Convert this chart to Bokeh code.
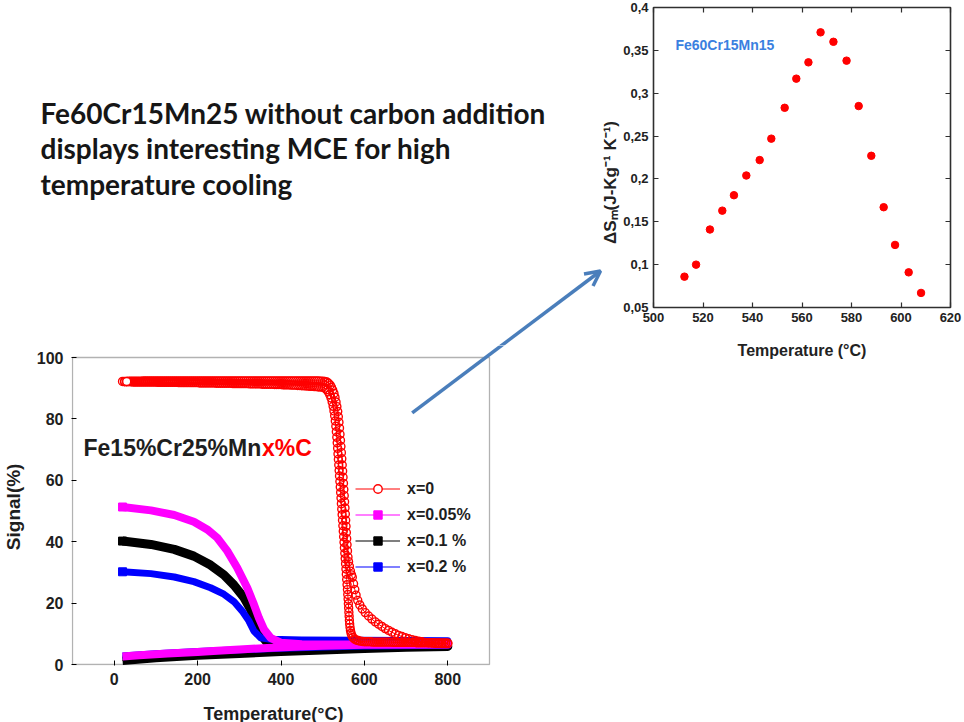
import math
from bokeh.plotting import figure
from bokeh.layouts import column, row
from bokeh.models import (Range1d, FixedTicker, LinearAxis, Label, Arrow, OpenHead,
                          Legend, LegendItem, CustomJSTickFormatter, BoxAnnotation, Spacer)
from bokeh.embed import file_html
from bokeh.resources import INLINE

# ---------------- data: magnetic entropy change (top-right panel) ----------------
ds_temp = [512.5, 517.2, 522.8, 527.8, 532.5, 537.5, 542.9, 547.6, 553.0, 557.7,
           562.6, 567.5, 572.7, 578.0, 582.9, 588.0, 593.0, 597.6, 603.1, 608.1]
ds_value = [0.086, 0.100, 0.141, 0.163, 0.181, 0.204, 0.222, 0.247, 0.283, 0.317,
            0.336, 0.371, 0.360, 0.338, 0.285, 0.227, 0.167, 0.123, 0.091, 0.067]
ds_temp_ticks = [500, 520, 540, 560, 580, 600, 620]
ds_value_ticks = [0.05, 0.1, 0.15, 0.2, 0.25, 0.3, 0.35, 0.4]

# ---------------- data: signal vs temperature (bottom-left panel) ----------------
sig_temp_ticks = [0, 200, 400, 600, 800]
sig_value_ticks = [0, 20, 40, 60, 80, 100]

# x = 0 : heating run (upper plateau, transition, slow tail)
red_heat_plateau = [
    (20, 92.2), (25, 92.2), (30, 92.2), (35, 92.3), (40, 92.3), (45, 92.3), (50, 92.3),
    (55, 92.3), (60, 92.3), (65, 92.3), (70, 92.4), (75, 92.4), (80, 92.4), (85, 92.4),
    (90, 92.4), (95, 92.4), (100, 92.4), (105, 92.4), (110, 92.4), (115, 92.4), (120, 92.4),
    (125, 92.4), (130, 92.4), (135, 92.4), (140, 92.4), (145, 92.4), (150, 92.4), (155, 92.4),
    (160, 92.4), (165, 92.4), (170, 92.4), (175, 92.4), (180, 92.4), (185, 92.4), (190, 92.4),
    (195, 92.4), (200, 92.4), (205, 92.4), (210, 92.4), (215, 92.4), (220, 92.4), (225, 92.4),
    (230, 92.4), (235, 92.4), (240, 92.4), (245, 92.4), (250, 92.4), (255, 92.4), (260, 92.4),
    (265, 92.4), (270, 92.4), (275, 92.4), (280, 92.4), (285, 92.4), (290, 92.4), (295, 92.4),
    (300, 92.4), (305, 92.4), (310, 92.4), (315, 92.4), (320, 92.4), (325, 92.4), (330, 92.4),
    (335, 92.4), (340, 92.4), (345, 92.4), (350, 92.4), (355, 92.4), (360, 92.4), (365, 92.4),
    (370, 92.4), (375, 92.4), (380, 92.4), (385, 92.4), (390, 92.4), (395, 92.4), (400, 92.4),
    (405, 92.4), (410, 92.4), (415, 92.4), (420, 92.4), (425, 92.4), (430, 92.4), (435, 92.4),
    (440, 92.4), (445, 92.4), (450, 92.4), (455, 92.4), (460, 92.4), (465, 92.4), (470, 92.4),
    (475, 92.4), (480, 92.4), (485, 92.4), (490, 92.4), (495, 92.3), (500, 92.3)]
red_heat_drop = [
    (505, 92.2), (510, 92.0), (514, 91.6), (518, 91.0), (521, 90.3), (524, 89.4), (527, 88.3),
    (529.5, 87.0), (532, 85.5), (534, 84.0), (536, 82.4), (537.5, 80.7), (539, 78.9),
    (540.3, 77.0), (541.5, 75.0), (542.6, 73.0), (543.7, 71.0), (544.8, 69.0), (545.8, 67.0),
    (546.8, 65.0), (547.8, 63.0), (548.8, 61.0), (549.8, 59.0), (550.7, 57.0), (551.6, 55.0),
    (552.5, 53.0), (553.4, 51.0), (554.3, 49.0), (555.1, 47.0), (555.9, 45.0), (556.7, 43.0),
    (557.5, 41.0), (558.4, 39.0), (559.4, 37.0), (560.6, 35.0), (562.0, 33.5), (564.0, 32.0),
    (566.5, 30.4), (569.0, 29.2), (571.0, 28.4), (574, 26.3), (577, 24.4), (580, 22.6)]
red_heat_tail = [
    (584, 20.9), (589, 19.4), (595, 18.1), (602, 16.9), (610, 15.8), (618, 14.8), (626, 13.9),
    (634, 13.1), (642, 12.4), (650, 11.7), (658, 11.1), (666, 10.5), (674, 10.0), (682, 9.5),
    (690, 9.1), (698, 8.7), (706, 8.4), (714, 8.1), (722, 7.8), (730, 7.6), (738, 7.4),
    (746, 7.2), (754, 7.1), (762, 7.0), (770, 6.9), (778, 6.9), (786, 6.8), (794, 6.8), (800, 6.8)]

# x = 0 : cooling run (low flat, transition back up, lower plateau)
red_cool_flat = [
    (800, 7.0), (795, 7.0), (790, 7.0), (785, 7.0), (780, 7.0), (775, 7.0), (770, 7.0),
    (765, 7.1), (760, 7.1), (755, 7.1), (750, 7.1), (745, 7.1), (740, 7.1), (735, 7.1),
    (730, 7.1), (725, 7.1), (720, 7.2), (715, 7.2), (710, 7.2), (705, 7.2), (700, 7.2),
    (695, 7.2), (690, 7.2), (685, 7.2), (680, 7.2), (675, 7.2), (670, 7.2), (665, 7.3),
    (660, 7.3), (655, 7.3), (650, 7.3), (645, 7.3), (640, 7.3), (635, 7.3), (630, 7.3),
    (625, 7.3), (620, 7.3), (615, 7.4), (610, 7.4), (605, 7.4), (600, 7.4)]
red_cool_rise = [
    (595, 7.5), (590, 7.6), (585, 7.8), (580, 8.0), (576, 8.3), (572.5, 8.8), (570, 9.4),
    (568, 10.2), (566.6, 11.1), (565.5, 12.1), (564.7, 13.2), (564.0, 14.4), (563.4, 15.7),
    (562.8, 17.0), (562.2, 18.4), (561.6, 19.8), (560.9, 21.3), (560.1, 22.8), (559.3, 24.4),
    (558.4, 26.0), (557.5, 27.7), (556.6, 29.4), (555.7, 31.1), (554.8, 32.8), (553.9, 34.5),
    (553.0, 36.2), (552.0, 38.0), (551.1, 39.8), (550.2, 41.6), (549.3, 43.4), (548.4, 45.2),
    (547.5, 47.0), (546.6, 48.8), (545.7, 50.6), (544.8, 52.4), (543.9, 54.2), (543.0, 56.0),
    (542.1, 57.8), (541.2, 59.6), (540.3, 61.4), (539.4, 63.2), (538.5, 65.0), (537.6, 66.8),
    (536.7, 68.6), (535.8, 70.4), (534.8, 72.2), (533.8, 74.0), (532.7, 75.8), (531.5, 77.6),
    (530.2, 79.3), (528.7, 81.0), (527.0, 82.6), (525.0, 84.1), (522.7, 85.5), (520.0, 86.8),
    (517.0, 87.9), (513.5, 88.8), (509.5, 89.5), (505.0, 90.0), (500.0, 90.3)]
red_cool_plateau = [
    (495, 90.4), (490, 90.4), (485, 90.5), (480, 90.5), (475, 90.6), (470, 90.6), (465, 90.7),
    (460, 90.7), (455, 90.8), (450, 90.8), (445, 90.9), (440, 90.9), (435, 91.0), (430, 91.0),
    (425, 91.0), (420, 91.1), (415, 91.1), (410, 91.1), (405, 91.1), (400, 91.2), (395, 91.2),
    (390, 91.2), (385, 91.2), (380, 91.3), (375, 91.3), (370, 91.3), (365, 91.3), (360, 91.3),
    (355, 91.3), (350, 91.4), (345, 91.4), (340, 91.4), (335, 91.4), (330, 91.4), (325, 91.4),
    (320, 91.5), (315, 91.5), (310, 91.5), (305, 91.5), (300, 91.5), (295, 91.5), (290, 91.5),
    (285, 91.5), (280, 91.6), (275, 91.6), (270, 91.6), (265, 91.6), (260, 91.6), (255, 91.6),
    (250, 91.6), (245, 91.6), (240, 91.7), (235, 91.7), (230, 91.7), (225, 91.7), (220, 91.7),
    (215, 91.7), (210, 91.7), (205, 91.7), (200, 91.8), (195, 91.8), (190, 91.8), (185, 91.8),
    (180, 91.8), (175, 91.8), (170, 91.8), (165, 91.8), (160, 91.8), (155, 91.8), (150, 91.9),
    (145, 91.9), (140, 91.9), (135, 91.9), (130, 91.9), (125, 91.9), (120, 91.9), (115, 91.9),
    (110, 91.9), (105, 91.9), (100, 92.0), (95, 92.0), (90, 92.0), (85, 92.0), (80, 92.0),
    (75, 92.0), (70, 92.0), (65, 92.0), (60, 92.0), (55, 92.0), (50, 92.0), (45, 92.0),
    (40, 92.1), (35, 92.1), (30, 92.1), (25, 92.1)]

# x = 0.05 %
mag_heat = [(20, 51.3), (88, 50.2), (144, 48.7), (191, 46.5), (223, 44.0), (247, 41.3),
            (271, 37.0), (295, 31.5), (319, 25.0), (335, 19.6), (347, 15.2), (359, 11.5),
            (375, 8.7), (399, 7.1), (450, 6.6), (500, 6.5), (600, 6.5), (700, 6.5), (800, 6.5)]
mag_cool = [(800, 6.5), (600, 6.4), (500, 6.1), (447, 5.9), (367, 5.4), (300, 4.9),
            (247, 4.5), (200, 4.1), (128, 3.6), (60, 3.0), (20, 2.6)]
# x = 0.1 %
blk_heat = [(20, 40.2), (88, 39.1), (144, 37.5), (191, 35.3), (231, 32.4), (263, 29.2),
            (287, 25.9), (311, 21.8), (327, 18.0), (339, 13.6), (351, 9.8), (367, 7.1),
            (383, 6.6), (450, 6.4), (600, 6.2), (800, 6.0)]
blk_cool = [(800, 5.9), (700, 5.6), (600, 5.2), (500, 4.7), (400, 4.2), (300, 3.6),
            (200, 3.0), (100, 2.2), (20, 1.3)]
# x = 0.2 %
blu_heat = [(20, 30.2), (88, 29.6), (144, 28.5), (191, 27.0), (231, 25.0), (263, 22.9),
            (287, 20.5), (307, 17.4), (323, 14.2), (335, 10.9), (351, 8.7), (375, 8.2),
            (450, 8.0), (580, 7.9), (700, 7.8), (800, 7.7)]
blu_cool = [(800, 6.3), (600, 6.0), (500, 5.7), (400, 5.3), (300, 4.8), (200, 4.2),
            (100, 3.5), (20, 2.8)]

legend_labels = ["x=0", "x=0.05%", "x=0.1 %", "x=0.2 %"]

headline = ["Fe60Cr15Mn25 without carbon addition",
            "displays interesting MCE for high",
            "temperature cooling"]

FONT = "Liberation Sans"
INK = "#1e1e1e"
RED = "#ff0000"
MAGENTA = "#ff00ff"
BLUE = "#0000ff"
BLACK = "#000000"
ARROW_BLUE = "#4a7ebb"

# page geometry (pixels from the top-left of the 964 x 722 page)
PAGE_H = 722
LEFT_W = 620            # width of the left column
TEXT_H = 345            # height of the headline strip
LAB_W = 30              # strip holding the rotated "Signal(%)" title
XLAB_TOP = 700          # strip holding the signal chart's temperature title
ARROW_FROM = (411.7, 412.3)
ARROW_TO = (600.0, 270.5)


def xs(*parts):
    return [t for part in parts for t, _ in part]


def ys(*parts):
    return [v for part in parts for _, v in part]


def strip(width, height, y0):
    """Axis-less figure whose data coordinates are page pixels."""
    fig = figure(width=width, height=height, x_range=Range1d(0, width),
                 y_range=Range1d(y0 + height, y0), output_backend="svg",
                 toolbar_location=None, title=None, min_border=0)
    fig.axis.visible = False
    fig.grid.visible = False
    fig.outline_line_color = None
    fig.background_fill_color = "white"
    fig.border_fill_color = "white"
    return fig


# ---------------- headline strip ----------------
p_text = strip(LEFT_W, TEXT_H, 0)
for i, line in enumerate(headline):
    p_text.add_layout(Label(x=40, y=112 + 35.5 * i, text=line, text_font="Lato",
                            text_font_style="bold", text_font_size="28px",
                            text_color="#161616", text_baseline="alphabetic"))
p_text.add_layout(Arrow(end=OpenHead(size=15, line_color=ARROW_BLUE, line_width=3.5),
                        x_start=ARROW_FROM[0], y_start=ARROW_FROM[1],
                        x_end=ARROW_TO[0], y_end=ARROW_TO[1],
                        line_color=ARROW_BLUE, line_width=3.5))
# title of the entropy panel's value axis
p_text.add_layout(Label(x=610, y=182, text="ΔSₘ(J-Kg⁻¹ K⁻¹)", angle=math.pi / 2,
                        text_font=FONT, text_font_style="bold", text_font_size="17px",
                        text_color="#222222", text_align="center", text_baseline="middle"))

# ---------------- strip with the rotated signal-axis title ----------------
p_lab = strip(LAB_W, XLAB_TOP - TEXT_H, TEXT_H)
p_lab.add_layout(Label(x=13, y=524, text="Signal(%)", angle=math.pi / 2,
                       text_font=FONT, text_font_style="bold", text_font_size="19px",
                       text_color=INK, text_align="center", text_baseline="middle"))

# ---------------- strip with the signal chart's temperature title ----------------
p_xlab = strip(LEFT_W, PAGE_H - XLAB_TOP, XLAB_TOP)
p_xlab.add_layout(Label(x=203, y=713, text="Temperature(°C)", text_font=FONT,
                        text_font_style="bold", text_font_size="18px", text_color=INK,
                        text_align="left", text_baseline="middle"))

# ---------------- signal chart ----------------
# axis box: x -100..900 on page x 72..489, y 0..100 on page y 664..357
BOX_L, BOX_R, BOX_T, BOX_B = 72, 489, 357, 664
SX = (BOX_R - BOX_L) / 1000.0
SY = (BOX_B - BOX_T) / 100.0
FRAME_L, FRAME_B = BOX_L - 1, BOX_B + 1


def sx(px):
    return -100 + (px - BOX_L) / SX


def sy(py):
    return (BOX_B - py) / SY


p = figure(width=LEFT_W - LAB_W, height=XLAB_TOP - TEXT_H,
           x_range=Range1d(sx(FRAME_L), sx(LEFT_W)), y_range=Range1d(sy(FRAME_B), sy(TEXT_H)),
           output_backend="svg", toolbar_location=None, title=None,
           min_border_left=FRAME_L - LAB_W, min_border_right=0,
           min_border_top=0, min_border_bottom=XLAB_TOP - FRAME_B)
p.grid.visible = False
p.outline_line_color = None
p.background_fill_color = "white"
p.border_fill_color = "white"
p.add_layout(BoxAnnotation(left=-100, right=900, bottom=0, top=100, fill_alpha=0,
                           line_color="black", line_width=1.3))

p.xaxis.ticker = FixedTicker(ticks=sig_temp_ticks)
p.yaxis.ticker = FixedTicker(ticks=sig_value_ticks)
for ax in (p.xaxis, p.yaxis):
    ax.axis_line_color = None
    ax.major_tick_in = 5
    ax.major_tick_out = 0
    ax.major_tick_line_color = "black"
    ax.minor_tick_line_color = None
    ax.major_label_text_font = FONT
    ax.major_label_text_font_style = "bold"
    ax.major_label_text_font_size = "16px"
    ax.major_label_text_color = INK
p.xaxis.major_label_standoff = 7
p.yaxis.major_label_standoff = 8

# signal bands: dense square markers that merge into thick strokes
bands = {}
for key, heat, cool, color, width in (
        ("blk", blk_heat, blk_cool, BLACK, 9),
        ("blu", blu_heat, blu_cool, BLUE, 7),
        ("mag", mag_heat, mag_cool, MAGENTA, 8)):
    tx, vy = xs(heat, cool), ys(heat, cool)
    p.line(tx, vy, line_color=color, line_width=width, line_join="round")
    thin = p.line(tx, vy, line_color=color, line_width=1.2)
    # square marker at the first recorded point
    start = p.scatter(xs(heat[:1]), ys(heat[:1]), marker="square", size=8,
                      line_color=color, fill_color=color)
    bands[key] = (thin, start)

red_parts = (red_heat_plateau, red_heat_drop, red_heat_tail,
             red_cool_flat, red_cool_rise, red_cool_plateau)
red_line = p.line(xs(*red_parts), ys(*red_parts), line_color=RED, line_width=1)
p.scatter(xs(*red_parts), ys(*red_parts), marker="circle", size=8, line_color=RED,
          line_width=1.4, fill_alpha=0)
# the first recorded point is left open (white centre)
red_first = p.scatter(xs(red_heat_plateau[2:3]), ys(red_heat_plateau[2:3]), marker="circle",
                      size=8, line_color=RED, line_width=1.4, fill_color="white")

legend = Legend(items=[
    LegendItem(label=legend_labels[0], renderers=[red_line, red_first]),
    LegendItem(label=legend_labels[1], renderers=list(bands["mag"])),
    LegendItem(label=legend_labels[2], renderers=list(bands["blk"])),
    LegendItem(label=legend_labels[3], renderers=list(bands["blu"])),
], location=(355 - FRAME_L, FRAME_B - 577))
legend.glyph_width = 45
legend.glyph_height = 21
legend.label_height = 21
legend.spacing = 5
legend.padding = 0
legend.margin = 0
legend.label_standoff = 7
legend.background_fill_alpha = 0
legend.border_line_color = None
legend.label_text_font = FONT
legend.label_text_font_style = "bold"
legend.label_text_font_size = "16px"
legend.label_text_color = INK
p.add_layout(legend, "center")

# composition label inside the chart
p.add_layout(Label(x=sx(83), y=sy(447.5), text="Fe15%Cr25%Mn", text_font=FONT,
                   text_font_style="bold", text_font_size="23px", text_color=INK,
                   text_baseline="alphabetic"))
p.add_layout(Label(x=sx(261.5), y=sy(447.5), text="x%C", text_font=FONT,
                   text_font_style="bold", text_font_size="23px", text_color=RED,
                   text_baseline="alphabetic"))

# lower part of the pointer (continues the arrow drawn in the headline strip)
p.add_layout(Arrow(end=None, x_start=sx(ARROW_FROM[0]), y_start=sy(ARROW_FROM[1]),
                   x_end=sx(ARROW_TO[0]), y_end=sy(ARROW_TO[1]),
                   line_color=ARROW_BLUE, line_width=3.5))

# ---------------- entropy-change panel (top right) ----------------
P2_W, P2_H = 964 - LEFT_W, 370
P2_FL, P2_FR, P2_FT, P2_FB = 652, 950, 7, 307
p2 = figure(width=P2_W, height=P2_H, x_range=Range1d(500, 620), y_range=Range1d(0.05, 0.4),
            output_backend="svg", toolbar_location=None, title=None,
            min_border_left=P2_FL - LEFT_W, min_border_right=964 - P2_FR,
            min_border_top=P2_FT, min_border_bottom=P2_H - P2_FB)
p2.grid.visible = False
p2.border_fill_color = "white"
p2.background_fill_color = "white"
p2.outline_line_color = "#2f2f2f"
p2.outline_line_width = 1.6

p2.xaxis.ticker = FixedTicker(ticks=ds_temp_ticks)
p2.yaxis.ticker = FixedTicker(ticks=ds_value_ticks)
p2.yaxis.formatter = CustomJSTickFormatter(
    code="return tick.toFixed(2).replace(/0$/, '').replace('.', ',');")
# tick-only axes on the top and right edges
blank = CustomJSTickFormatter(code="return '';")
top_axis = LinearAxis(ticker=FixedTicker(ticks=ds_temp_ticks), formatter=blank)
right_axis = LinearAxis(ticker=FixedTicker(ticks=ds_value_ticks), formatter=blank)
p2.add_layout(top_axis, "above")
p2.add_layout(right_axis, "right")
for ax in p2.axis:
    ax.axis_line_color = None
    ax.major_tick_in = 5
    ax.major_tick_out = 0
    ax.major_tick_line_color = "#2f2f2f"
    ax.major_tick_line_width = 1.2
    ax.minor_tick_line_color = None
    ax.major_label_text_font = FONT
    ax.major_label_text_font_style = "bold"
    ax.major_label_text_font_size = "13px"
    ax.major_label_text_color = "#222222"
    ax.major_label_standoff = 5
for ax in (top_axis, right_axis):
    ax.major_label_text_font_size = "1px"
    ax.major_label_text_color = None
    ax.major_label_standoff = 0
bottom_axis = p2.below[0]
bottom_axis.axis_label = "Temperature (°C)"
bottom_axis.axis_label_text_font = FONT
bottom_axis.axis_label_text_font_style = "bold"
bottom_axis.axis_label_text_font_size = "16px"
bottom_axis.axis_label_text_color = "#222222"
bottom_axis.axis_label_standoff = 17

p2.scatter(ds_temp, ds_value, marker="circle", size=7.5, line_color=RED, fill_color=RED)


def gx(px):
    return 500 + (px - P2_FL) * 120 / (P2_FR - P2_FL)


def gy(py):
    return 0.4 - (py - P2_FT) * 0.35 / (P2_FB - P2_FT)


p2.add_layout(Label(x=gx(674), y=gy(44), text="Fe60Cr15Mn15", text_font=FONT,
                    text_font_style="bold", text_font_size="14px", text_color="#3a80e0",
                    text_baseline="alphabetic"))

page = row(column(p_text, row(p_lab, p), p_xlab),
           column(p2, Spacer(width=P2_W, height=PAGE_H - P2_H)))

open("out.html", "w").write(file_html(page, INLINE))
